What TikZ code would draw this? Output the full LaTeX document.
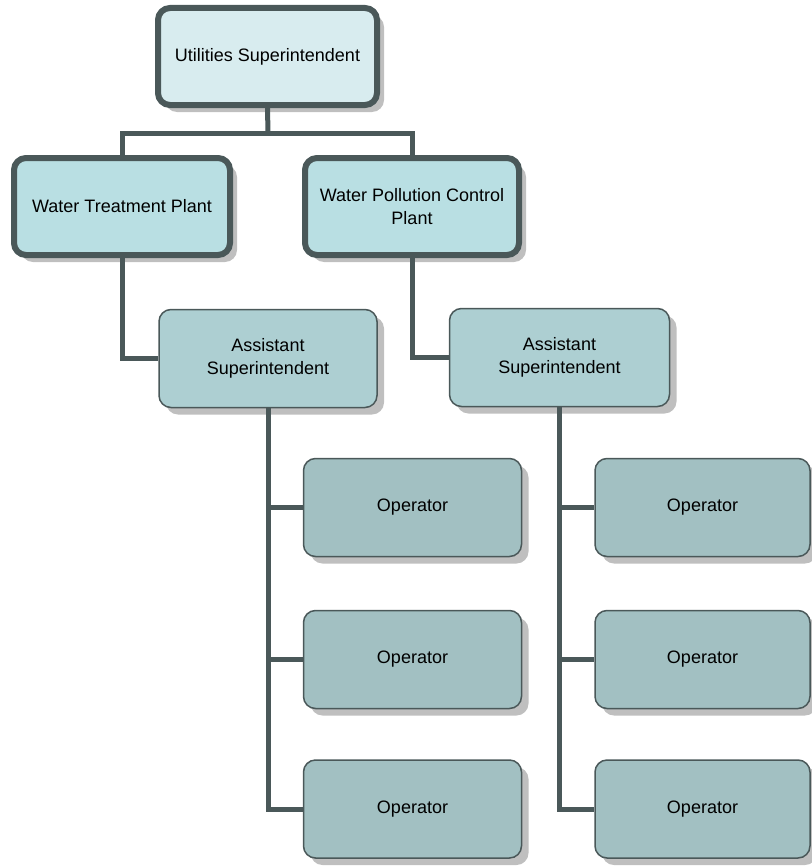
\documentclass[tikz,border=0pt]{standalone}
\usepackage{fontspec}
\setmainfont{Liberation Sans}
\usetikzlibrary{shadows}

\definecolor{boxline}{HTML}{4A5859}
\definecolor{topfill}{HTML}{D8ECEF}
\definecolor{plantfill}{HTML}{B9DFE3}
\definecolor{asstfill}{HTML}{ADCFD2}
\definecolor{opfill}{HTML}{A2C0C2}

\begin{document}
\begin{tikzpicture}[x=1pt, y=-1pt,
  box/.style={rectangle, rounded corners=12pt, draw=boxline, align=center,
    font=\fontsize{18}{23}\selectfont,
    drop shadow={shadow xshift=7pt, shadow yshift=-7pt, fill=black!25, opacity=1}},
  head/.style={box, line width=6pt, minimum height=97pt},
  staff/.style={box, line width=1.5pt, minimum width=218pt, minimum height=98pt},
  link/.style={draw=boxline, line width=5pt}]
\useasboundingbox (0,0) rectangle (811,867);
\node[head, fill=topfill, minimum width=219pt] (util) at (267.5,56.5) {Utilities Superintendent};
\node[head, fill=plantfill, minimum width=216pt] (wtp) at (122,206.5) {Water Treatment Plant};
\node[head, fill=plantfill, minimum width=214pt] (wpcp) at (412,206.5) {Water Pollution Control\\Plant};
\node[staff, fill=asstfill] (asst1) at (268,358.5) {Assistant\\Superintendent};
\node[staff, fill=asstfill, minimum width=220pt] (asst2) at (559.5,357.5) {Assistant\\Superintendent};
\foreach \i/\y in {1/507.5, 2/659.5, 3/809} {
    \node[staff, fill=opfill] (opa\i) at (412.5,\y) {Operator};
    \node[staff, fill=opfill, minimum width=215pt] (opb\i) at (702.5,\y) {Operator};
}
% lines
\coordinate (bus) at (268,133);
\draw[link] (util.south) -- (bus);
\draw[link] (wtp.north) |- (bus) -| (wpcp.north);
\draw[link] (wtp.south) |- (asst1.west);
\draw[link] (wpcp.south) |- (asst2.west);
\foreach \i in {1,2,3} {
    \draw[link] (asst1.south) |- (opa\i.west);
    \draw[link] (asst2.south) |- (opb\i.west);
}
\end{tikzpicture}
\end{document}
